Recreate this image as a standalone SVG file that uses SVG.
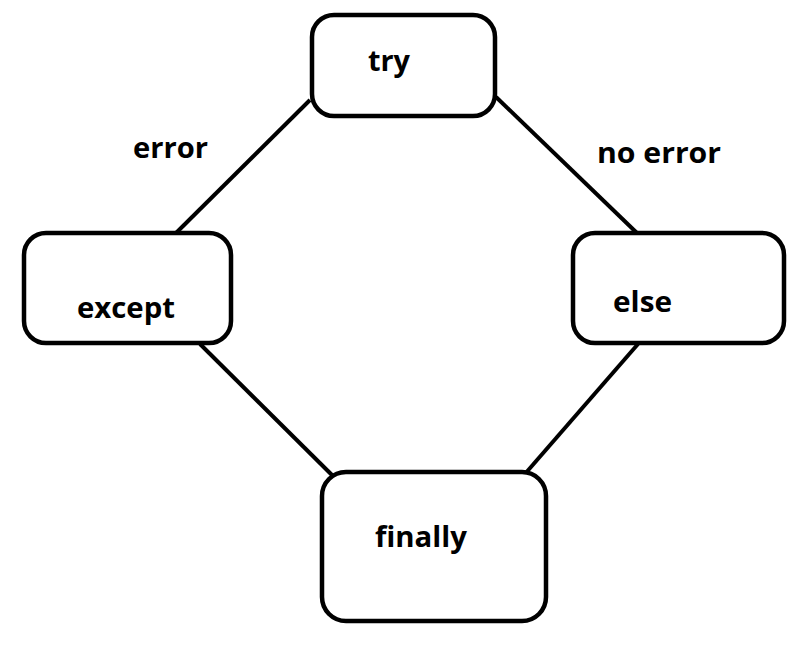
<svg xmlns="http://www.w3.org/2000/svg" width="810" height="650" viewBox="0 0 810 650">
<style>
.box{fill:#fff;stroke:#000;stroke-width:4.5}
.edge{stroke:#000;stroke-width:4;fill:none}
.t{font-family:"Open Sans","Noto Sans",sans-serif;font-weight:bold;font-size:29px;fill:#000}
</style>
<rect width="810" height="650" fill="#fff"/>
<g id="connectors">
<line class="edge" x1="310" y1="100" x2="175" y2="234"/>
<line class="edge" x1="496" y1="97" x2="638" y2="234"/>
<line class="edge" x1="200" y1="344" x2="336" y2="479"/>
<line class="edge" x1="638" y1="344" x2="524" y2="475"/>
<text class="t" x="133" y="158" textLength="75" lengthAdjust="spacingAndGlyphs">error</text>
<text class="t" x="597" y="163" textLength="124" lengthAdjust="spacingAndGlyphs">no error</text>
</g>
<g id="try">
<rect class="box" x="312" y="15" width="183" height="101" rx="22"/>
<text class="t" x="368" y="71" textLength="42" lengthAdjust="spacingAndGlyphs">try</text>
</g>
<g id="except">
<rect class="box" x="24" y="233" width="207" height="110" rx="22"/>
<text class="t" x="77" y="318" textLength="98" lengthAdjust="spacingAndGlyphs">except</text>
</g>
<g id="else">
<rect class="box" x="573" y="233" width="211" height="110" rx="22"/>
<text class="t" x="613" y="312" textLength="59" lengthAdjust="spacingAndGlyphs">else</text>
</g>
<g id="finally">
<rect class="box" x="322" y="472" width="224" height="149" rx="24"/>
<text class="t" x="375" y="547" textLength="92" lengthAdjust="spacingAndGlyphs">finally</text>
</g>
</svg>
